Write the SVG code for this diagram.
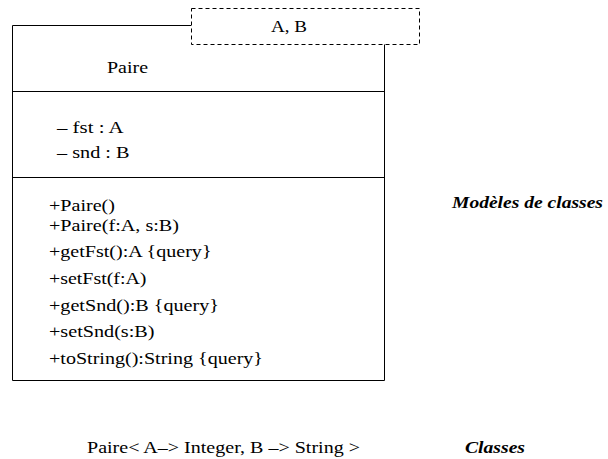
<svg xmlns="http://www.w3.org/2000/svg" width="608" height="459" viewBox="0 0 608 459" font-family="'Liberation Serif', 'Times New Roman', 'DejaVu Serif', serif">
  <style>
    text { font-size: 17px; fill: #000; }
    .bi { font-weight: bold; font-style: italic; }
    .ln { stroke: #000; stroke-width: 1; fill: none; }
    .dash { stroke: #000; stroke-width: 1; fill: #fff; stroke-dasharray: 4 3; }
  </style>
  <rect width="608" height="459" fill="#fff"/>

  <!-- Template class Paire<A, B> -->
  <g id="paire" font-family="Liberation Serif, serif">
    <path class="ln" d="M12.5 380.5 V25.5 H191 M384.5 44 V380.5 H12.5"/>
    <line class="ln" x1="12" y1="91.5" x2="385" y2="91.5"/>
    <line class="ln" x1="12" y1="177.5" x2="385" y2="177.5"/>
    <text x="107" y="73" textLength="41" lengthAdjust="spacingAndGlyphs">Paire</text>
    <text x="57" y="133" textLength="66.5" lengthAdjust="spacingAndGlyphs">– fst : A</text>
    <text x="57" y="158" textLength="72.5" lengthAdjust="spacingAndGlyphs">– snd : B</text>
    <text x="49" y="211" textLength="66" lengthAdjust="spacingAndGlyphs">+Paire()</text>
    <text x="49" y="231" textLength="130" lengthAdjust="spacingAndGlyphs">+Paire(f:A, s:B)</text>
    <text x="49" y="257" textLength="162.5" lengthAdjust="spacingAndGlyphs">+getFst():A {query}</text>
    <text x="49" y="284" textLength="97.5" lengthAdjust="spacingAndGlyphs">+setFst(f:A)</text>
    <text x="49" y="311" textLength="170" lengthAdjust="spacingAndGlyphs">+getSnd():B {query}</text>
    <text x="49" y="337" textLength="105.5" lengthAdjust="spacingAndGlyphs">+setSnd(s:B)</text>
    <text x="49" y="364" textLength="214" lengthAdjust="spacingAndGlyphs">+toString():String {query}</text>
  </g>

  <!-- Template parameters -->
  <g id="params" font-family="Liberation Serif, serif">
    <rect class="dash" x="191.5" y="8.5" width="228" height="36"/>
    <text x="271" y="32" textLength="36" lengthAdjust="spacingAndGlyphs">A, B</text>
  </g>

  <!-- Bound class -->
  <g id="bound" font-family="Liberation Serif, serif">
    <text x="87" y="453" textLength="273" lengthAdjust="spacingAndGlyphs">Paire&lt; A–&gt; Integer, B –&gt; String &gt;</text>
  </g>

  <g id="captions" font-family="Liberation Serif, serif">
    <text class="bi" x="452" y="208" textLength="151" lengthAdjust="spacingAndGlyphs">Modèles de classes</text>
    <text class="bi" x="465" y="453" textLength="60" lengthAdjust="spacingAndGlyphs">Classes</text>
  </g>
</svg>
